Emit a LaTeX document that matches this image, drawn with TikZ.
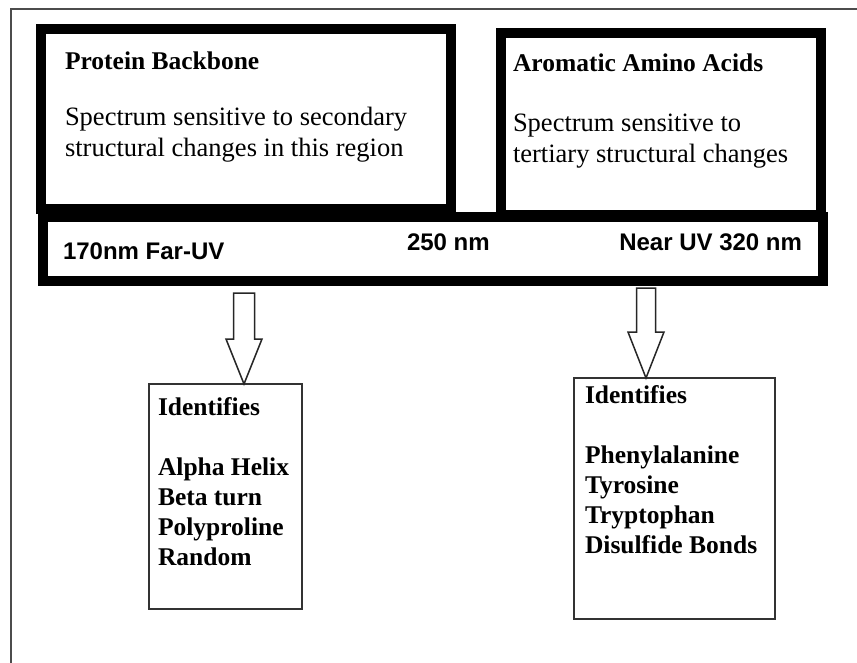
\documentclass[tikz,border=0pt]{standalone}
\usepackage{fontspec}
\setmainfont{Liberation Serif}
\setsansfont{Liberation Sans}
\usetikzlibrary{positioning, calc}

\begin{document}
\begin{tikzpicture}[
    x=1pt, y=-1pt,
    every node/.style={inner sep=0pt, outer sep=0pt, align=left}
]
    % Define styles
    \tikzstyle{region} = [rectangle, draw=black, line width=10pt, fill=white]
    \tikzstyle{result} = [rectangle, draw=black!80, line width=2pt, fill=white, anchor=north west]
    \tikzstyle{heading} = [font=\fontsize{25.5}{30}\selectfont\bfseries, anchor=base west]
    \tikzstyle{remark} = [font=\fontsize{26.5}{31}\selectfont, anchor=base west]
    \tikzstyle{wavelength} = [font=\fontsize{24}{28}\selectfont\sffamily\bfseries]
    \tikzstyle{hollow} = [draw=black!85, line width=1.5pt, fill=white, line join=miter]
    \tikzstyle{frame} = [draw=black!70, line width=2pt]

    \useasboundingbox (0,0) rectangle (857,663);

    % Frame
    \draw [frame] (11,663) |- (857,9);

    % Regions and wavelength band
    \node [region, minimum width=410, minimum height=180] (backbone) at (246,119) {};
    \node [region, minimum width=320, minimum height=182] (aromatic) at (661,124) {};
    \node [region, minimum width=780, minimum height=64] (band) at (433,249) {};

    % multi-line texts sit on their last line
    \node [heading] (backbonetitle) at ($(backbone.north west)+(24,41)$) {Protein Backbone};
    \node [remark] (backbonetext) at ($(backbone.north west)+(24,128)$) {Spectrum sensitive to secondary\\structural changes in this region};
    \node [heading] (aromatictitle) at ($(aromatic.north west)+(12,39)$) {Aromatic Amino Acids};
    \node [remark] (aromatictext) at ($(aromatic.north west)+(12,130)$) {Spectrum sensitive to\\tertiary structural changes};

    \node [wavelength, anchor=base west] (faruv) at ($(band.west)+(20,10)$) {170nm Far-UV};
    \node [wavelength, anchor=base west] (mid) at ($(band.center)+(-26,2)$) {250 nm};
    \node [wavelength, anchor=base east] (nearuv) at ($(band.east)+(-21,2)$) {Near UV 320 nm};

    % Results
    \node [result, minimum width=153, minimum height=225] (secondary) at (149,384) {};
    \node [result, minimum width=201, minimum height=241] (tertiary) at (574,378) {};
    \node [heading] (secondarylist) at ($(secondary.north west)+(9,181)$) {Identifies\\[30pt]Alpha Helix\\Beta turn\\Polyproline\\Random};
    \node [heading] (tertiarylist) at ($(tertiary.north west)+(11,175)$) {Identifies\\[30pt]Phenylalanine\\Tyrosine\\Tryptophan\\Disulfide Bonds};

    % Block arrows from band to results
    \coordinate (tipL) at ($(secondary.north west)+(95,0)$);
    \coordinate (tipR) at ($(tertiary.north west)+(72,0)$);
    \draw [hollow] (tipL) -- ++(-18,-45) -- ++(7.5,0) -- ++(0,-46) -- ++(21,0) -- ++(0,46) -- ++(7.5,0) -- cycle;
    \draw [hollow] (tipR) -- ++(-18,-46) -- ++(8.5,0) -- ++(0,-44) -- ++(19,0) -- ++(0,44) -- ++(8.5,0) -- cycle;

\end{tikzpicture}
\end{document}
